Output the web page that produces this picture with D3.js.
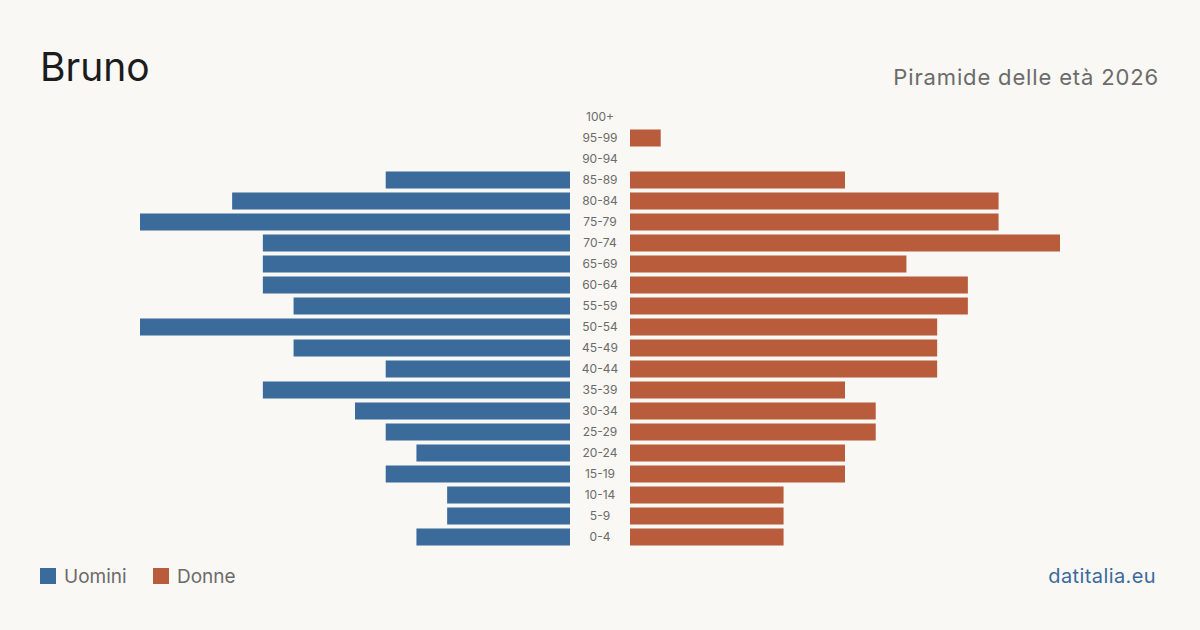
<!DOCTYPE html>
<html lang="it">
<head>
<meta charset="UTF-8">
<title>Bruno - Piramide delle età 2026</title>
<script src="https://d3js.org/d3.v7.min.js"></script>
<style>
  body { margin: 0; background: #f9f8f4; }
  svg { display: block; font-family: Inter, "Noto Sans", sans-serif; }
</style>
</head>
<body>
<svg id="chart" width="1200" height="630"></svg>
<script>
// fasce di età, dall'alto verso il basso
const ages = ["100+","95-99","90-94","85-89","80-84","75-79","70-74","65-69","60-64","55-59",
  "50-54","45-49","40-44","35-39","30-34","25-29","20-24","15-19","10-14","5-9","0-4"];
const men   = [0,0,0,6,11,14,10,10,10,9,14,9,6,10,7,6,5,6,4,4,5];
const women = [0,1,0,7,12,12,14,9,11,11,10,10,10,7,8,8,7,7,5,5,5];

const W = 1200, H = 630;
const blue = "#3b6b9b", red = "#b95c3c";

const svg = d3.select("#chart");
svg.append("rect").attr("width", W).attr("height", H).attr("fill", "#f9f8f4");

const y = d3.scaleBand().domain(ages).range([106.5, 547.5]).paddingInner(0.19).paddingOuter(0.095);
const xm = d3.scaleLinear().domain([0, 14]).range([570, 140]);
const xf = d3.scaleLinear().domain([0, 14]).range([630, 1060]);

svg.append("g").selectAll("rect").data(ages).join("rect")
  .attr("x", (d, i) => xm(men[i]))
  .attr("y", d => y(d))
  .attr("width", (d, i) => xm(0) - xm(men[i]))
  .attr("height", y.bandwidth())
  .attr("fill", blue);

svg.append("g").selectAll("rect").data(ages).join("rect")
  .attr("x", xf(0))
  .attr("y", d => y(d))
  .attr("width", (d, i) => xf(women[i]) - xf(0))
  .attr("height", y.bandwidth())
  .attr("fill", red);

svg.append("g").selectAll("text").data(ages).join("text")
  .attr("x", 600)
  .attr("y", d => y(d) + y.bandwidth() / 2)
  .attr("dy", "0.35em")
  .attr("text-anchor", "middle")
  .attr("font-size", 12)
  .attr("fill", "#6b6b6b")
  .text(d => d);

// titoli
svg.append("text").attr("x", 40).attr("y", 81)
  .attr("font-size", 39).attr("fill", "#1c1c1c").text("Bruno");
svg.append("text").attr("x", 1159).attr("y", 85).attr("text-anchor", "end")
  .attr("font-size", 22).attr("letter-spacing", 0.85).attr("fill", "#6b6b6b").text("Piramide delle età 2026");

// legenda
const legend = [{label: "Uomini", color: blue, x: 40}, {label: "Donne", color: red, x: 153}];
const lg = svg.append("g").selectAll("g").data(legend).join("g")
  .attr("transform", d => `translate(${d.x},568)`);
lg.append("rect").attr("width", 16).attr("height", 16).attr("fill", d => d.color);
lg.append("text").attr("x", 24).attr("y", 15).attr("font-size", 19)
  .attr("fill", "#6b6b6b").text(d => d.label);

svg.append("text").attr("x", 1156).attr("y", 583).attr("text-anchor", "end")
  .attr("font-size", 20).attr("letter-spacing", 0.4).attr("fill", blue).text("datitalia.eu");
</script>
</body>
</html>
